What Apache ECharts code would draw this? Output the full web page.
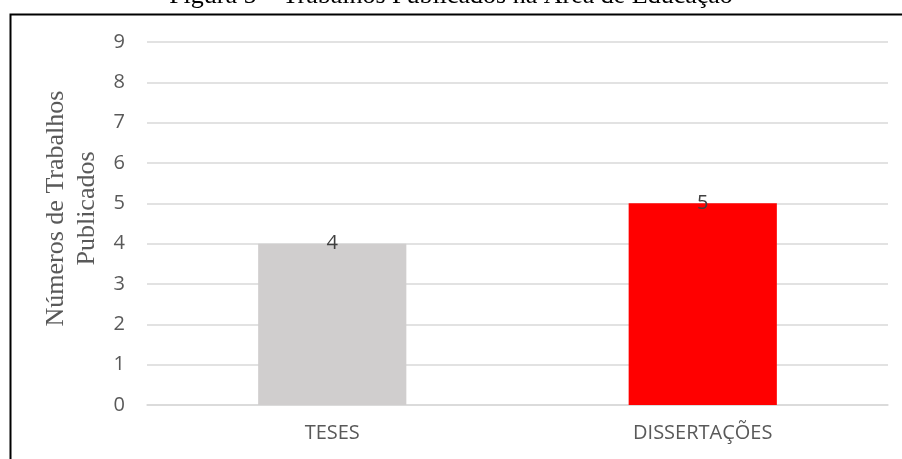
<!DOCTYPE html>
<html>
<head>
<meta charset="utf-8">
<script src="https://cdn.jsdelivr.net/npm/echarts@6/dist/echarts.min.js"></script>
<style>
  html, body { margin: 0; padding: 0; background: #fff; }
  #chart { width: 902px; height: 459px; }
</style>
</head>
<body>
<div id="chart"></div>
<script>
const categories = ['TESES', 'DISSERTAÇÕES'];
const values = [4, 5];
const barColors = ['#D0CECE', '#FF0000'];
const yTicks = { min: 0, max: 9, interval: 1 };

const chart = echarts.init(document.getElementById('chart'));

const option = {
  animation: false,
  title: {
    text: 'Figura 5 – Trabalhos Publicados na Área de Educação',
    left: 'center',
    top: -22,
    textStyle: {
      fontFamily: 'Liberation Serif',
      fontWeight: 'normal',
      fontSize: 26,
      color: '#000'
    }
  },
  graphic: [
    {
      type: 'rect',
      left: 8,
      top: 12,
      shape: { width: 1000, height: 1000 },
      style: { fill: 'none', stroke: '#000', lineWidth: 2 },
      z: 100
    }
  ],
  grid: { left: 147, right: 14, top: 42, bottom: 54 },
  xAxis: {
    type: 'category',
    data: categories,
    axisTick: { show: false },
    axisLine: { lineStyle: { color: '#D9D9D9', width: 1.5 } },
    axisLabel: {
      color: '#595959',
      fontFamily: 'Open Sans',
      fontSize: 20,
      margin: 18
    }
  },
  yAxis: {
    type: 'value',
    min: yTicks.min,
    max: yTicks.max,
    interval: yTicks.interval,
    name: 'Números de Trabalhos\nPublicados',
    nameLocation: 'middle',
    nameRotate: 90,
    nameGap: 42,
    nameTextStyle: {
      fontFamily: 'Liberation Serif',
      fontSize: 26,
      lineHeight: 31,
      color: '#595959',
      padding: [0, 0, 0, 30]
    },
    axisLabel: {
      color: '#595959',
      fontFamily: 'Open Sans',
      fontSize: 20,
      margin: 22
    },
    splitLine: { lineStyle: { color: '#D9D9D9', width: 1.5 } }
  },
  series: [
    {
      type: 'bar',
      barWidth: '40%',
      data: values.map((v, i) => ({ value: v, itemStyle: { color: barColors[i] } })),
      label: {
        show: true,
        position: 'top',
        distance: 0,
        offset: [0, 10],
        color: '#404040',
        fontFamily: 'Open Sans',
        fontSize: 20
      }
    }
  ]
};

chart.setOption(option);
</script>
</body>
</html>
